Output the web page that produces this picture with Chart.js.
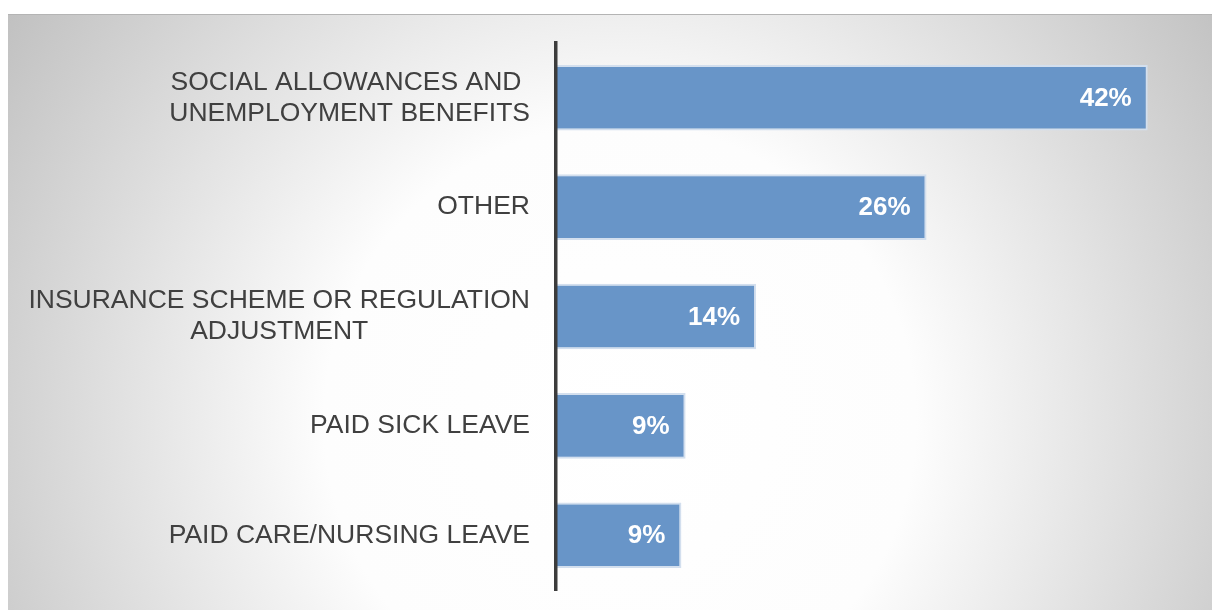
<!DOCTYPE html>
<html>
<head>
<meta charset="utf-8">
<script src="https://cdn.jsdelivr.net/npm/chart.js@4/dist/chart.umd.min.js"></script>
<style>
  html, body { margin: 0; padding: 0; background: #fff; }
  #wrap { width: 1212px; height: 610px; position: relative; }
</style>
</head>
<body>
<div id="wrap"><canvas id="chart"></canvas></div>
<script>
// Chart data
const categories = [
  ['SOCIAL ALLOWANCES AND ', 'UNEMPLOYMENT BENEFITS'],
  ['OTHER'],
  ['INSURANCE SCHEME OR REGULATION', 'ADJUSTMENT'],
  ['PAID SICK LEAVE'],
  ['PAID CARE/NURSING LEAVE']
];
const shares = [42, 26.3, 14.2, 9.2, 8.9];

const labelFont = '26.5px "Liberation Sans", Arial, sans-serif';
const valueFont = 'bold 26px "Liberation Sans", Arial, sans-serif';

// Grey panel with a soft white glow in the middle
const panelBackground = {
  id: 'panelBackground',
  beforeDraw(chart) {
    const ctx = chart.ctx;
    const w = chart.width, h = chart.height;
    ctx.save();
    const g = ctx.createRadialGradient(620, 420, 0, 620, 420, 740);
    g.addColorStop(0, '#ffffff');
    g.addColorStop(0.4, '#fdfdfd');
    g.addColorStop(1, '#c0c0c0');
    ctx.fillStyle = g;
    ctx.fillRect(8, 14, w - 8, h - 14);
    ctx.fillStyle = '#b4b4b4';
    ctx.fillRect(8, 14, w - 8, 1);
    ctx.restore();
  }
};

// Category labels: right-aligned block, lines centred within it
const categoryLabels = {
  id: 'categoryLabels',
  afterDraw(chart) {
    const ctx = chart.ctx;
    const yScale = chart.scales.y;
    const right = chart.chartArea.left - 26;
    const lineHeight = 31;
    ctx.save();
    ctx.font = labelFont;
    ctx.fillStyle = '#404040';
    ctx.textAlign = 'center';
    ctx.textBaseline = 'middle';
    categories.forEach((lines, i) => {
      const cy = yScale.getPixelForValue(i);
      const widest = Math.max(...lines.map(l => ctx.measureText(l).width));
      const cx = right - widest / 2;
      const top = cy - (lines.length - 1) * lineHeight / 2;
      lines.forEach((line, j) => ctx.fillText(line, cx, top + j * lineHeight));
    });
    ctx.restore();
  }
};

// Percent labels inside the end of each bar
const valueLabels = {
  id: 'valueLabels',
  afterDatasetsDraw(chart) {
    const ctx = chart.ctx;
    const meta = chart.getDatasetMeta(0);
    ctx.save();
    ctx.font = valueFont;
    ctx.fillStyle = '#ffffff';
    ctx.textAlign = 'right';
    ctx.textBaseline = 'middle';
    meta.data.forEach((bar, i) => {
      ctx.fillText(Math.round(shares[i]) + '%', bar.x - 16, bar.y + 1);
    });
    ctx.restore();
  }
};

new Chart(document.getElementById('chart'), {
  type: 'bar',
  data: {
    labels: categories.map(c => c.join(' ')),
    datasets: [{
      data: shares,
      backgroundColor: '#6895c8',
      borderColor: '#d3dfee',
      borderWidth: 2,
      categoryPercentage: 0.6,
      barPercentage: 1
    }]
  },
  options: {
    indexAxis: 'y',
    responsive: true,
    maintainAspectRatio: false,
    animation: false,
    layout: { padding: { left: 548, top: 43, right: 22, bottom: 20 } },
    plugins: {
      legend: { display: false },
      tooltip: { enabled: false }
    },
    scales: {
      x: { display: false, min: 0, max: 45 },
      y: {
        ticks: { display: false },
        grid: { display: false },
        border: { display: true, color: '#3c3c3c', width: 3.5, z: 1 }
      }
    }
  },
  plugins: [panelBackground, categoryLabels, valueLabels]
});
</script>
</body>
</html>
